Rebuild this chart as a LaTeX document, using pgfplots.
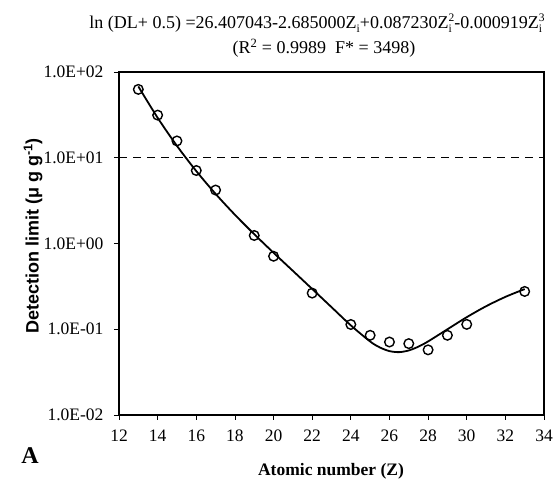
\documentclass[border=0pt]{standalone}
\usepackage{fontspec}
\setmainfont{Liberation Serif}
\setsansfont{Liberation Sans}
\usepackage{pgfplots}
\pgfplotsset{compat=1.18}
\newcommand\sm[1]{{\fontsize{11.5bp}{12bp}\selectfont #1}}
\newcommand\Zs{Z\raisebox{-0.22em}{\sm{i}}}
\newcommand\Zi[1]{Z\rlap{\raisebox{-0.22em}{\sm{i}}}\raisebox{0.42em}{\sm{#1}}}
\begin{document}
\begin{tikzpicture}
\useasboundingbox (0,0) rectangle (555bp,487bp);
\begin{axis}[
  at={(119bp,72bp)}, anchor=south west,
  scale only axis, width=425bp, height=343bp,
  xmin=12, xmax=34, ymin=0.01, ymax=100, ymode=log,
  xtick={12,14,16,18,20,22,24,26,28,30,32,34},
  xticklabels={12,14,16,18,20,22,24,26,28,30,32,34},
  ytick={0.01,0.1,1,10,100},
  yticklabels={1.0E-02,1.0E-01,1.0E+00,1.0E+01,1.0E+02},
  yminorticks=false, xminorticks=false,
  tick align=outside, tick pos=left,
  major tick length=5bp,
  axis line style={line width=1.6bp},
  tick style={line width=0.8bp, black},
  ticklabel style={font=\fontsize{17.5bp}{20bp}\selectfont},
  yticklabel style={xshift=-7bp},
  xticklabel style={yshift=-6bp},
  clip=false,
]
\addplot[black, line width=0.8bp, dash pattern=on 8bp off 6bp] coordinates {(12,10) (34,10)};
\addplot[black, line width=1.8bp, smooth, tension=0.5] coordinates {
(13,67.87) (14,29.24) (15,13.76) (16,6.99) (17,3.79) (18,2.164) (19,1.284)
(20,0.780) (21,0.480) (22,0.295) (23,0.181) (24,0.111) (25,0.072)
(25.5,0.0614) (26,0.0556) (26.5,0.0541) (27,0.0566) (27.5,0.0627)
(28,0.0721) (29,0.0999) (30,0.1383) (31,0.1854) (32,0.2384) (33,0.2941)};
\addplot[only marks, mark=o, mark size=4.8bp, mark options={line width=1.4bp, black}] coordinates {
(13,62.7) (14,31.4) (15,15.7) (16,7.1) (17,4.2) (19,1.24) (20,0.71)
(22,0.264) (24,0.1136) (25,0.085) (26,0.071) (27,0.068) (28,0.0575)
(29,0.085) (30,0.114) (33,0.276)};
\end{axis}
\node[font=\fontsize{18bp}{21bp}\selectfont] at (317bp,464bp)
  {ln (DL+ 0.5) =26.407043-2.685000\Zs+0.087230\Zi{2}-0.000919\Zi{3}};
\node[font=\fontsize{18bp}{21bp}\selectfont] at (324bp,439bp)
  {(R\textsuperscript{2} = 0.9989\ \ F* = 3498)};
\node[rotate=90, font=\sffamily\bfseries\fontsize{18bp}{21bp}\selectfont] at (33bp,251bp)
  {Detection limit (μ g g\textsuperscript{-1})};
\node[font=\bfseries\fontsize{17.5bp}{20bp}\selectfont] at (331bp,16bp) {Atomic number (Z)};
\node[font=\bfseries\fontsize{24bp}{28bp}\selectfont] at (30bp,31bp) {A};
\end{tikzpicture}
\end{document}
